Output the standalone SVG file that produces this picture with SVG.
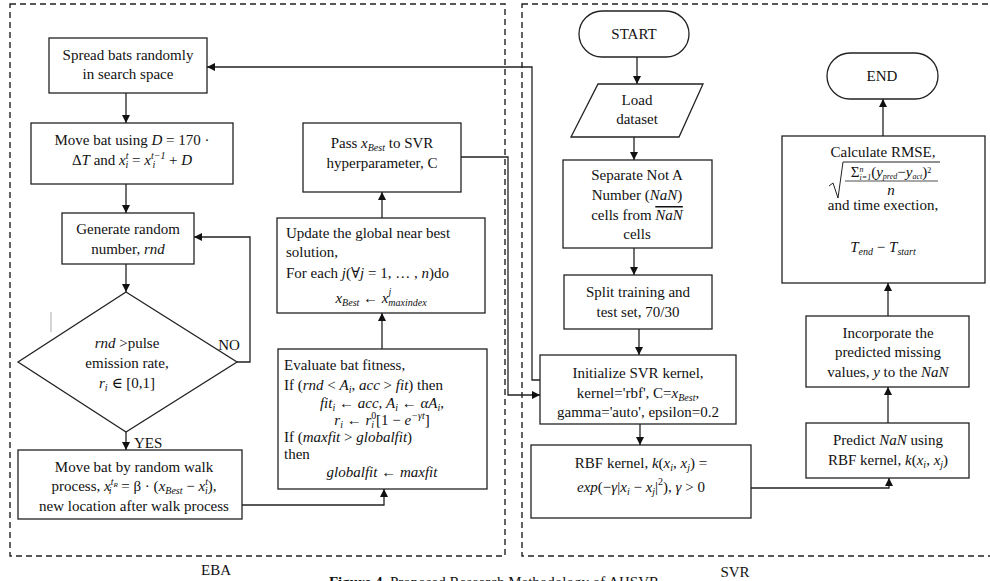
<svg xmlns="http://www.w3.org/2000/svg" width="990" height="581" viewBox="0 0 990 581">
<style>
.t{font-family:'Liberation Serif','DejaVu Serif','Noto Serif',serif;font-size:15px;fill:#111}
.c{text-anchor:middle}
.i{font-style:italic}
.s{font-size:10px}
.box{fill:#fff;stroke:#222;stroke-width:1.3}
.dash{fill:none;stroke:#222;stroke-width:1.4;stroke-dasharray:6 4}
.con{fill:none;stroke:#222;stroke-width:1.3;marker-end:url(#ah)}
</style>
<defs>
<marker id="ah" viewBox="0 0 10 10" refX="10" refY="5" markerWidth="8" markerHeight="8" markerUnits="userSpaceOnUse" orient="auto"><path d="M0,0 L10,5 L0,10 z" fill="#111"/></marker>
</defs>
<rect x="0" y="0" width="990" height="581" fill="#fff"/>
<g id="containers">
<rect class="dash" x="10" y="4" width="495" height="552"/>
<rect class="dash" x="522" y="4" width="470" height="552"/>
<text class="t c" x="216" y="575" font-size="12">EBA</text>
<text class="t c" x="735" y="577" font-size="12">SVR</text>
<text class="t c" x="494" y="587" font-size="17"><tspan font-weight="bold">Figure 4.</tspan> Proposed Research Methodology of AHSVR</text>
<line x1="51" y1="312" x2="51" y2="332" stroke="#aaa" stroke-width="1"/>
</g>
<g id="connectors">
<path class="con" d="M126,93 V123"/>
<path class="con" d="M126,184 V213"/>
<path class="con" d="M126,264 V292"/>
<path class="con" d="M237,362 H250 V237 H194"/>
<path class="con" d="M126,432 V450"/>
<path class="con" d="M242,505 H384 V489"/>
<path class="con" d="M382,349 V313"/>
<path class="con" d="M382,218 V192"/>
<path class="con" d="M461,157 H508 V395 H540"/>
<path class="con" d="M540,380 H532 V67 H207"/>
<path class="con" d="M637,57 V84"/>
<path class="con" d="M634,137 V160"/>
<path class="con" d="M634,248 V275"/>
<path class="con" d="M639,329 V355"/>
<path class="con" d="M640,424 V445"/>
<path class="con" d="M751,488 H889 V478"/>
<path class="con" d="M888,423 V387"/>
<path class="con" d="M888,316 V283"/>
<path class="con" d="M883,136 V99"/>
<text class="t c" x="229" y="350" font-size="16">NO</text>
<text class="t" x="134" y="448" font-size="16">YES</text>
</g>
<g id="spread">
<rect class="box" x="49" y="38" width="158" height="55"/>
<text class="t c" x="128" y="60">Spread bats randomly</text>
<text class="t c" x="128" y="79">in search space</text>
</g>
<g id="movebat">
<rect class="box" x="31" y="123" width="202" height="61"/>
<text class="t c" x="132" y="145">Move bat using <tspan class="i">D</tspan> = 170 ·</text>
<text class="t c" x="132" y="165">Δ<tspan class="i">T</tspan> and <tspan class="i">x</tspan><tspan class="s i" dy="-6">t</tspan><tspan class="s i" dx="-3" dy="9">i</tspan><tspan dy="-3"> = </tspan><tspan class="i">x</tspan><tspan class="s i" dy="-6">t−1</tspan><tspan class="s i" dx="-13" dy="9">i</tspan><tspan dx="10" dy="-3"> + </tspan><tspan class="i">D</tspan></text>
</g>
<g id="generate">
<rect class="box" x="62" y="213" width="132" height="51"/>
<text class="t c" x="128" y="234">Generate random</text>
<text class="t c" x="128" y="254">number, <tspan class="i">rnd</tspan></text>
</g>
<g id="decision">
<polygon class="box" points="126,292 237,362 126,432 18,362"/>
<text class="t c" x="127" y="348"><tspan class="i">rnd</tspan> &gt;pulse</text>
<text class="t c" x="127" y="368">emission rate,</text>
<text class="t c" x="127" y="388"><tspan class="i">r</tspan><tspan class="s i" dy="3">i</tspan><tspan dy="-3"> ∈ [0,1]</tspan></text>
</g>
<g id="randomwalk">
<rect class="box" x="18" y="450" width="224" height="69"/>
<text class="t c" x="134" y="472">Move bat by random walk</text>
<text class="t c" x="134" y="491">process, <tspan class="i">x</tspan><tspan class="s i" dy="-6">t</tspan><tspan class="i" font-size="7" dy="2">R</tspan><tspan class="s i" dx="-9" dy="7">i</tspan><tspan dx="6" dy="-3"> = β · (</tspan><tspan class="i">x</tspan><tspan class="s i" dy="3">Best</tspan><tspan dy="-3"> − </tspan><tspan class="i">x</tspan><tspan class="s i" dy="-6">t</tspan><tspan class="s i" dx="-3" dy="9">i</tspan><tspan dy="-3">),</tspan></text>
<text class="t c" x="134" y="511">new location after walk process</text>
</g>
<g id="evaluate">
<rect class="box" x="278" y="349" width="209" height="140"/>
<text class="t" x="284" y="370">Evaluate bat fitness,</text>
<text class="t" x="284" y="390">If (<tspan class="i">rnd</tspan> &lt; <tspan class="i">A</tspan><tspan class="s i" dy="3">i</tspan><tspan dy="-3">, </tspan><tspan class="i">acc</tspan> &gt; <tspan class="i">fit</tspan>) then</text>
<text class="t c" x="382" y="408"><tspan class="i">fit</tspan><tspan class="s i" dy="3">i</tspan><tspan dy="-3"> ← </tspan><tspan class="i">acc</tspan>, <tspan class="i">A</tspan><tspan class="s i" dy="3">i</tspan><tspan dy="-3"> ← </tspan><tspan class="i">αA</tspan><tspan class="s i" dy="3">i</tspan><tspan dy="-3">,</tspan></text>
<text class="t c" x="382" y="425"><tspan class="i">r</tspan><tspan class="s i" dy="3">i</tspan><tspan dy="-3"> ← </tspan><tspan class="i">r</tspan><tspan class="s" dy="-6">0</tspan><tspan class="s i" dx="-5" dy="9">i</tspan><tspan dx="2" dy="-3">[1 − </tspan><tspan class="i">e</tspan><tspan class="s i" dy="-6">−γt</tspan><tspan dy="6">]</tspan></text>
<text class="t" x="284" y="442">If (<tspan class="i">maxfit</tspan> &gt; <tspan class="i">globalfit</tspan>)</text>
<text class="t" x="284" y="459">then</text>
<text class="t c" x="382" y="477"><tspan class="i">globalfit</tspan> ← <tspan class="i">maxfit</tspan></text>
</g>
<g id="update">
<rect class="box" x="277" y="218" width="208" height="95"/>
<text class="t" x="286" y="238">Update the global near best</text>
<text class="t" x="286" y="257">solution,</text>
<text class="t" x="286" y="278">For each <tspan class="i">j</tspan>(∀<tspan class="i">j</tspan> = 1, … , <tspan class="i">n</tspan>)do</text>
<text class="t c" x="381" y="303"><tspan class="i">x</tspan><tspan class="s i" dy="3">Best</tspan><tspan dy="-3"> ← </tspan><tspan class="i">x</tspan><tspan class="s i" dy="-8">j</tspan><tspan class="s i" dx="-3" dy="11">maxindex</tspan></text>
</g>
<g id="pass">
<rect class="box" x="303" y="123" width="158" height="69"/>
<text class="t c" x="382" y="148">Pass <tspan class="i">x</tspan><tspan class="s i" dy="3">Best</tspan><tspan dy="-3"> to SVR</tspan></text>
<text class="t c" x="382" y="168">hyperparameter, C</text>
</g>
<g id="start">
<rect class="box" x="579" y="11" width="110" height="46" rx="23"/>
<text class="t c" x="634" y="39">START</text>
</g>
<g id="load">
<polygon class="box" points="598,84 703,84 679,137 571,137"/>
<text class="t c" x="637" y="105">Load</text>
<text class="t c" x="637" y="124">dataset</text>
</g>
<g id="separate">
<rect class="box" x="563" y="160" width="149" height="88"/>
<text class="t c" x="637" y="180">Separate Not A</text>
<text class="t c" x="637" y="200">Number (<tspan class="i">NaN</tspan>)</text>
<text class="t c" x="637" y="220">cells from <tspan class="i" text-decoration="overline">NaN</tspan></text>
<text class="t c" x="637" y="239">cells</text>
</g>
<g id="split">
<rect class="box" x="564" y="275" width="148" height="54"/>
<text class="t c" x="638" y="297">Split training and</text>
<text class="t c" x="638" y="317">test set, 70/30</text>
</g>
<g id="init">
<rect class="box" x="540" y="355" width="196" height="69"/>
<text class="t c" x="638" y="378">Initialize SVR kernel,</text>
<text class="t c" x="638" y="398">kernel='rbf', C=<tspan class="i">x</tspan><tspan class="s i" dy="3">Best</tspan><tspan dy="-3">,</tspan></text>
<text class="t c" x="638" y="417">gamma='auto', epsilon=0.2</text>
</g>
<g id="rbf">
<rect class="box" x="531" y="445" width="220" height="73"/>
<text class="t c" x="641" y="468">RBF kernel, <tspan class="i">k</tspan>(<tspan class="i">x</tspan><tspan class="s i" dy="3">i</tspan><tspan dy="-3">, </tspan><tspan class="i">x</tspan><tspan class="s i" dy="3">j</tspan><tspan dy="-3">) =</tspan></text>
<text class="t c" x="641" y="492"><tspan class="i">exp</tspan>(−<tspan class="i">γ</tspan>|<tspan class="i">x</tspan><tspan class="s i" dy="3">i</tspan><tspan dy="-3"> − </tspan><tspan class="i">x</tspan><tspan class="s i" dy="3">j</tspan><tspan dy="-3">|</tspan><tspan class="s" dy="-7">2</tspan><tspan dy="7">), </tspan><tspan class="i">γ</tspan> &gt; 0</text>
</g>
<g id="predict">
<rect class="box" x="806" y="423" width="163" height="55"/>
<text class="t c" x="888" y="445">Predict <tspan class="i">NaN</tspan> using</text>
<text class="t c" x="888" y="465">RBF kernel, <tspan class="i">k</tspan>(<tspan class="i">x</tspan><tspan class="s i" dy="3">i</tspan><tspan dy="-3">, </tspan><tspan class="i">x</tspan><tspan class="s i" dy="3">j</tspan><tspan dy="-3">)</tspan></text>
</g>
<g id="incorporate">
<rect class="box" x="806" y="316" width="163" height="71"/>
<text class="t c" x="888" y="338">Incorporate the</text>
<text class="t c" x="888" y="357">predicted missing</text>
<text class="t c" x="888" y="377">values, <tspan class="i">y</tspan> to the <tspan class="i">NaN</tspan></text>
</g>
<g id="calculate">
<rect class="box" x="782" y="136" width="203" height="147"/>
<text class="t c" x="883" y="157">Calculate RMSE,</text>
<path d="M829,186 L833,183 L838,198 L843,162 L940,162" fill="none" stroke="#222" stroke-width="1"/>
<line x1="845" y1="181" x2="938" y2="181" stroke="#222" stroke-width="0.8"/>
<text class="t c" x="891" y="177" font-size="11">Σ<tspan font-size="8" class="i" dy="-5">n</tspan><tspan font-size="8" class="i" dx="-4" dy="8">i=1</tspan><tspan dy="-3">(</tspan><tspan class="i">y</tspan><tspan font-size="8" class="i" dy="2">pred</tspan><tspan dy="-2">−</tspan><tspan class="i">y</tspan><tspan font-size="8" class="i" dy="2">act</tspan><tspan dy="-2">)</tspan><tspan font-size="8" dy="-4">2</tspan></text>
<text class="t c i" x="891" y="195" font-size="11">n</text>
<text class="t c" x="883" y="210">and time exection,</text>
<text class="t c" x="883" y="252"><tspan class="i">T</tspan><tspan class="s i" dy="3">end</tspan><tspan dy="-3"> − </tspan><tspan class="i">T</tspan><tspan class="s i" dy="3">start</tspan></text>
</g>
<g id="end">
<rect class="box" x="827" y="53" width="111" height="46" rx="23"/>
<text class="t c" x="882" y="81">END</text>
</g>
</svg>
